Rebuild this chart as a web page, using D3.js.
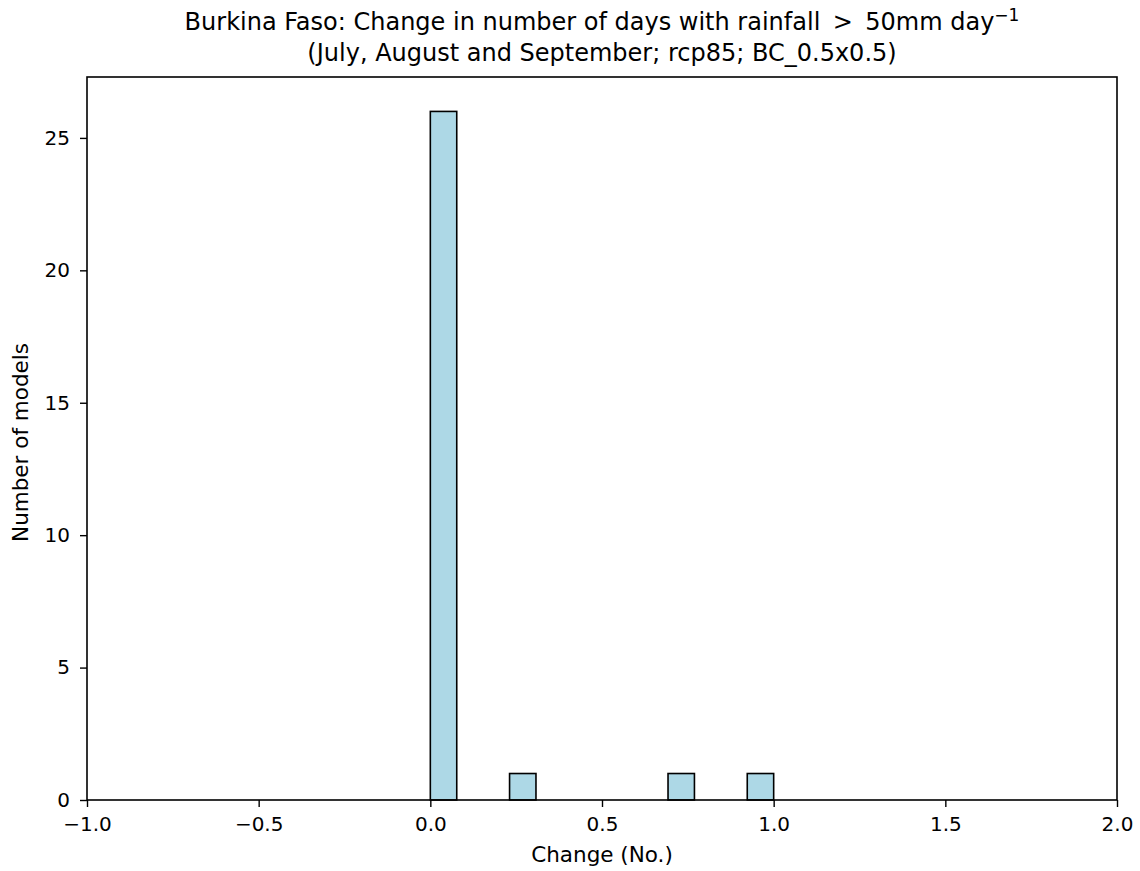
<!DOCTYPE html>
<html><head><meta charset="utf-8">
<script src="https://cdn.jsdelivr.net/npm/d3@7"></script>
<style>body{margin:0;background:#fff}text{font-family:"DejaVu Sans",sans-serif;fill:#000}</style>
</head><body><svg id="c" width="1140" height="871"></svg>
<script>
const binEdges = [0,1/13,2/13,3/13,4/13,5/13,6/13,7/13,8/13,9/13,10/13,11/13,12/13,1];
const counts = [26,0,0,1,0,0,0,0,0,1,0,0,1];
const xTicks = [-1.0,-0.5,0.0,0.5,1.0,1.5,2.0];
const yTicks = [0,5,10,15,20,25];
const titleLine1 = "Burkina Faso: Change in number of days with rainfall";
const titleLine2 = "(July, August and September; rcp85; BC_0.5x0.5)";

const svg = d3.select("#c");
const L=87,R=1117,T=77,B=800;
const x = d3.scaleLinear().domain([-1,2]).range([L,R]);
const y = d3.scaleLinear().domain([0,27.3]).range([B,T]);
const bins = counts.map((c,i)=>({x0:binEdges[i],x1:binEdges[i+1],c}));

svg.append("g").selectAll("rect").data(bins).join("rect")
  .attr("x",d=>x(d.x0)).attr("width",d=>x(d.x1)-x(d.x0))
  .attr("y",d=>y(d.c)).attr("height",d=>y(0)-y(d.c))
  .attr("fill","#add8e6").attr("stroke","#000").attr("stroke-width",1.6);

const fmt = d=> d3.format(".1f")(d).replace("-","\u2212");
const xa = svg.append("g").attr("transform",`translate(0,${B})`)
  .call(d3.axisBottom(x).tickValues(xTicks).tickFormat(fmt).tickSize(7).tickPadding(10));
const ya = svg.append("g").attr("transform",`translate(${L},0)`)
  .call(d3.axisLeft(y).tickValues(yTicks).tickFormat(d3.format("d")).tickSize(7).tickPadding(10));
[xa,ya].forEach(a=>{a.select(".domain").remove();a.selectAll("line").attr("stroke","#000").attr("stroke-width",1.4);
  a.selectAll("text").attr("font-size",20).attr("font-family","DejaVu Sans").attr("fill","#000");});
svg.append("rect").attr("x",L).attr("y",T).attr("width",R-L).attr("height",B-T)
  .attr("fill","none").attr("stroke","#000").attr("stroke-width",1.6);

svg.append("text").attr("x",(L+R)/2).attr("y",862).attr("text-anchor","middle").attr("font-size",21.5).text("Change (No.)");
svg.append("text").attr("transform",`translate(28,${(T+B)/2+4}) rotate(-90)`).attr("text-anchor","middle").attr("font-size",21.5).text("Number of models");

const t1 = svg.append("text").attr("x",(L+R)/2).attr("y",30).attr("text-anchor","middle").attr("font-size",24);
t1.append("tspan").text(titleLine1+"\u2009 > \u200950mm day");
t1.append("tspan").attr("dy",-9).attr("font-size",17).text("\u22121");
svg.append("text").attr("x",(L+R)/2).attr("y",61).attr("text-anchor","middle").attr("font-size",24).text(titleLine2);
</script></body></html>
